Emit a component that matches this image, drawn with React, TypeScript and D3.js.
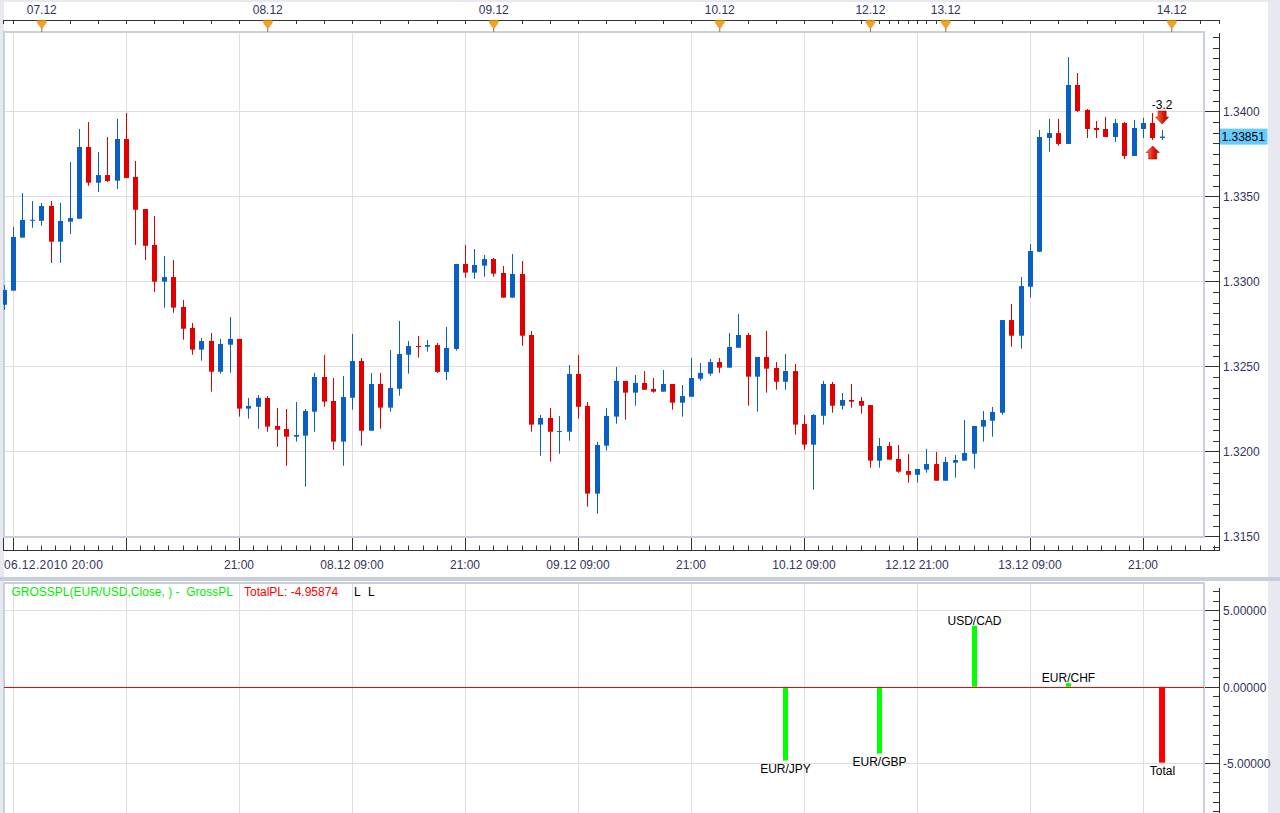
import React, { useRef, useEffect } from "react";
import * as d3 from "d3";

// hourly EUR/USD bars, two trading sessions (weekend gap)
const sessions: [string, string][] = [
  ["2010-12-06T20:00", "2010-12-10T15:00"],
  ["2010-12-12T16:00", "2010-12-13T23:00"],
];

const opens = [
  1.32862, 1.32945, 1.33257, 1.33356, 1.33356, 1.33443, 1.33233, 1.33351, 1.33368, 1.3379,
  1.3358, 1.33625, 1.33592, 1.33837, 1.33614, 1.33425, 1.33214, 1.32998, 1.33025, 1.32849,
  1.32725, 1.32598, 1.32649, 1.32468, 1.32627, 1.32661, 1.32251, 1.32262, 1.32314, 1.32149,
  1.32131, 1.32086, 1.32092, 1.32233, 1.32437, 1.32296, 1.32057, 1.32315, 1.32531, 1.32121,
  1.32396, 1.32257, 1.32368, 1.32568, 1.32619, 1.32615, 1.32625, 1.32467, 1.32602, 1.33102,
  1.33051, 1.33092, 1.33131, 1.33049, 1.32904, 1.33043, 1.32684, 1.32157, 1.32196, 1.32115,
  1.32115, 1.32455, 1.32267, 1.31751, 1.32033, 1.32204, 1.32414, 1.32345, 1.32402, 1.32367,
  1.32351, 1.32396, 1.32286, 1.32321, 1.32427, 1.32457, 1.32525, 1.32492, 1.32609, 1.32684,
  1.32439, 1.32555, 1.3249, 1.32409, 1.32472, 1.32161, 1.32039, 1.32209, 1.32396, 1.32268,
  1.32302, 1.32296, 1.32272, 1.31945, 1.32031, 1.31955, 1.31884, 1.31862, 1.31892, 1.31925,
  1.31827, 1.31933, 1.31945, 1.31986, 1.32145, 1.3218, 1.32227, 1.32772, 1.3268, 1.32968,
  1.33174, 1.33843, 1.33872, 1.33808, 1.34155, 1.34008, 1.33902, 1.33896, 1.33849, 1.33931,
  1.33737, 1.33896, 1.33931, 1.33843,
];
const highs = [
  1.32978, 1.33319, 1.33519, 1.33472, 1.33461, 1.33472, 1.33461, 1.33702, 1.33896, 1.33937,
  1.33761, 1.33849, 1.33955, 1.3399, 1.33708, 1.33425, 1.33384, 1.33149, 1.33125, 1.3289,
  1.32755, 1.32667, 1.32696, 1.32661, 1.3279, 1.32661, 1.32314, 1.32331, 1.32325, 1.32255,
  1.32249, 1.3229, 1.32249, 1.32461, 1.32567, 1.32431, 1.32443, 1.3269, 1.32549, 1.32461,
  1.32461, 1.32596, 1.32767, 1.32649, 1.32678, 1.32655, 1.32637, 1.32731, 1.33102, 1.33214,
  1.3319, 1.33155, 1.33137, 1.3309, 1.33161, 1.33119, 1.32708, 1.32214, 1.32255, 1.32208,
  1.32508, 1.32567, 1.3229, 1.32055, 1.32255, 1.32496, 1.32414, 1.32449, 1.32472, 1.32431,
  1.32478, 1.32396, 1.3239, 1.32549, 1.32519, 1.32543, 1.32549, 1.32696, 1.32808, 1.32696,
  1.32555, 1.32708, 1.32525, 1.32572, 1.32514, 1.32214, 1.32219, 1.32414, 1.32408, 1.32343,
  1.32396, 1.32319, 1.32272, 1.32078, 1.32055, 1.32037, 1.31984, 1.31896, 1.32014, 1.31996,
  1.31967, 1.31978, 1.32184, 1.32149, 1.32237, 1.32261, 1.32772, 1.32867, 1.33025, 1.33219,
  1.3389, 1.33955, 1.33955, 1.34319, 1.34225, 1.34014, 1.33943, 1.33967, 1.33955, 1.33937,
  1.33949, 1.33961, 1.3399, 1.3389,
];
const lows = [
  1.32831, 1.32945, 1.33257, 1.33315, 1.33327, 1.33108, 1.33108, 1.33278, 1.33368, 1.33562,
  1.33525, 1.33584, 1.33543, 1.33608, 1.33214, 1.33125, 1.32937, 1.32845, 1.32815, 1.32657,
  1.32568, 1.32533, 1.32351, 1.32457, 1.32462, 1.32204, 1.32192, 1.32133, 1.32115, 1.32027,
  1.31915, 1.32057, 1.31792, 1.32115, 1.32262, 1.32009, 1.31915, 1.32245, 1.32033, 1.32121,
  1.32133, 1.32233, 1.32327, 1.32457, 1.32551, 1.32586, 1.32461, 1.32419, 1.32592, 1.33021,
  1.33015, 1.33027, 1.33027, 1.32904, 1.32904, 1.32621, 1.32115, 1.31974, 1.31939, 1.31986,
  1.32062, 1.32192, 1.31674, 1.31633, 1.32004, 1.32162, 1.32186, 1.32268, 1.32362, 1.32345,
  1.32351, 1.32245, 1.32204, 1.32321, 1.32415, 1.32445, 1.32462, 1.32492, 1.32609, 1.32268,
  1.32233, 1.32345, 1.32362, 1.32362, 1.32098, 1.32009, 1.31774, 1.32157, 1.32227, 1.32245,
  1.32257, 1.32221, 1.31904, 1.31904, 1.31951, 1.31874, 1.31815, 1.31815, 1.31874, 1.31827,
  1.31827, 1.31845, 1.31945, 1.31898, 1.32057, 1.32086, 1.32215, 1.32615, 1.32604, 1.32904,
  1.33174, 1.33762, 1.33798, 1.33808, 1.33996, 1.33843, 1.33843, 1.33849, 1.33819, 1.33719,
  1.33737, 1.33843, 1.33831, 1.33831,
];
const closes = [
  1.32949, 1.33261, 1.33361, 1.33362, 1.33443, 1.33233, 1.33355, 1.33372, 1.3379, 1.3358,
  1.33625, 1.3359, 1.33837, 1.33608, 1.33421, 1.33209, 1.32998, 1.33025, 1.32845, 1.32721,
  1.32598, 1.32649, 1.32468, 1.32631, 1.32661, 1.32251, 1.32267, 1.32314, 1.32145, 1.32127,
  1.32086, 1.32096, 1.32237, 1.32437, 1.32292, 1.32057, 1.32319, 1.32531, 1.32121, 1.32396,
  1.32257, 1.32372, 1.32572, 1.32619, 1.32614, 1.32625, 1.32467, 1.32608, 1.33102, 1.33051,
  1.33096, 1.33131, 1.33045, 1.32904, 1.33043, 1.3268, 1.32157, 1.32196, 1.32115, 1.32119,
  1.32455, 1.32262, 1.31751, 1.32037, 1.32208, 1.32414, 1.32345, 1.32402, 1.32362, 1.32351,
  1.32396, 1.32286, 1.32325, 1.32431, 1.32461, 1.32525, 1.32492, 1.32614, 1.32684, 1.32439,
  1.32555, 1.32486, 1.32409, 1.32472, 1.32157, 1.32039, 1.32214, 1.32396, 1.32268, 1.32302,
  1.32292, 1.32268, 1.31945, 1.32031, 1.31951, 1.3188, 1.31862, 1.31896, 1.31925, 1.31827,
  1.31937, 1.31949, 1.3199, 1.32149, 1.32184, 1.32231, 1.32772, 1.3268, 1.32972, 1.33178,
  1.33849, 1.33872, 1.33808, 1.34155, 1.34002, 1.33896, 1.3389, 1.33849, 1.33931, 1.33737,
  1.33902, 1.33931, 1.33843, 1.33851,
];

const dayMarkers = ["07.12", "08.12", "09.12", "10.12", "12.12", "13.12", "14.12"];
const gridTimes = [
  "06.12 21:00", "07.12 09:00", "07.12 21:00", "08.12 09:00", "08.12 21:00", "09.12 09:00",
  "09.12 21:00", "10.12 09:00", "12.12 21:00", "13.12 09:00", "13.12 21:00",
];
const bottomLabels: [string, string][] = [
  ["06.12 20:00", "06.12.2010 20:00"],
  ["07.12 21:00", "21:00"],
  ["08.12 09:00", "08.12 09:00"],
  ["08.12 21:00", "21:00"],
  ["09.12 09:00", "09.12 09:00"],
  ["09.12 21:00", "21:00"],
  ["10.12 09:00", "10.12 09:00"],
  ["12.12 21:00", "12.12 21:00"],
  ["13.12 09:00", "13.12 09:00"],
  ["13.12 21:00", "21:00"],
];
const priceTicks = [1.315, 1.32, 1.325, 1.33, 1.335, 1.34];
const lastPrice = 1.33851;

// trades on the chart
const tradeTimes = ["13.12 22:00", "13.12 23:00"];
const tradeSides = ["buy", "sell"];
const tradeLabels = ["", "-3.2"];

// GROSSPL indicator panel
const plSymbols = ["EUR/JPY", "EUR/GBP", "USD/CAD", "EUR/CHF", "Total"];
const plTimes = ["10.12 07:00", "12.12 17:00", "13.12 03:00", "13.12 13:00", "13.12 23:00"];
const plValues = [-4.82, -4.36, 3.98, 0.24, -4.95874];
const plTicks = [-5, 0, 5];

const FONT = "'Liberation Sans', Arial, sans-serif";
const AXIS_TEXT = "#33335f";
const UP = "#0a5fc3";
const DOWN = "#e00000";
const GRID = "#dedede";
const FRAME = "#c8d0dc";

export default function App() {
  const ref = useRef<SVGSVGElement>(null);

  useEffect(() => {
    if (!ref.current) return;
    const svg = d3.select(ref.current);
    svg.selectAll("*").remove();

    const fmt = d3.timeFormat("%d.%m %H:%M");
    const times = sessions.flatMap(([a, b]) =>
      d3.timeHour.range(new Date(a), d3.timeHour.offset(new Date(b), 1))
    );
    const labels = times.map(fmt);
    const idxOf = (t: string) => labels.indexOf(t);

    const bars = labels.map((t, i) => ({
      i,
      t,
      o: opens[i],
      h: highs[i],
      l: lows[i],
      c: closes[i],
    }));

    const x = d3
      .scaleLinear()
      .domain([idxOf("06.12 21:00"), idxOf("13.12 21:00")])
      .range([13, 1143]);
    const y = d3.scaleLinear().domain([1.315, 1.34]).range([536.3, 111.3]);
    const yPL = d3.scaleLinear().domain([-5, 5]).range([763.3, 610.3]);
    const px = (v: number) => Math.round(v) + 0.5;

    const L = 4, R = 1204, AX = 1219.5;

    // backgrounds
    svg.append("rect").attr("width", 1280).attr("height", 813).attr("fill", "#e8e8f0");
    svg.append("rect").attr("x", L).attr("y", 2).attr("width", 1264).attr("height", 811).attr("fill", "#fff");

    const defs = svg.append("defs");
    defs.append("clipPath").attr("id", "plot").append("rect")
      .attr("x", 3).attr("y", 32).attr("width", R - 3).attr("height", 505);
    const grad = defs.append("linearGradient").attr("id", "arrow").attr("x1", 0).attr("x2", 1);
    grad.append("stop").attr("offset", "0%").attr("stop-color", "#ff8a50");
    grad.append("stop").attr("offset", "55%").attr("stop-color", "#e01a10");
    grad.append("stop").attr("offset", "100%").attr("stop-color", "#b80000");

    // ---------- main price panel ----------
    const grid = svg.append("g").attr("stroke", GRID).attr("stroke-width", 1);
    gridTimes.forEach((t) => {
      grid.append("line").attr("x1", px(x(idxOf(t)))).attr("x2", px(x(idxOf(t))))
        .attr("y1", 33).attr("y2", 537);
      grid.append("line").attr("x1", px(x(idxOf(t)))).attr("x2", px(x(idxOf(t))))
        .attr("y1", 584).attr("y2", 813);
    });
    priceTicks.filter((p) => p > 1.315).forEach((p) => {
      grid.append("line").attr("x1", L).attr("x2", R).attr("y1", px(y(p))).attr("y2", px(y(p)));
    });
    plTicks.filter((v) => v !== 0).forEach((v) => {
      grid.append("line").attr("x1", L).attr("x2", R).attr("y1", px(yPL(v))).attr("y2", px(yPL(v)));
    });

    svg.append("rect").attr("x", L).attr("y", 32).attr("width", R - L).attr("height", 505)
      .attr("fill", "none").attr("stroke", FRAME).attr("stroke-width", 2);

    const candles = svg.append("g").attr("clip-path", "url(#plot)");
    const cg = candles.selectAll("g").data(bars).enter().append("g")
      .attr("fill", (d) => (d.c >= d.o ? UP : DOWN))
      .attr("stroke", (d) => (d.c >= d.o ? UP : DOWN));
    cg.append("line")
      .attr("x1", (d) => px(x(d.i))).attr("x2", (d) => px(x(d.i)))
      .attr("y1", (d) => y(d.h)).attr("y2", (d) => y(d.l))
      .attr("stroke-width", 1);
    cg.append("rect")
      .attr("x", (d) => Math.round(x(d.i)) - 2)
      .attr("width", 5)
      .attr("y", (d) => y(Math.max(d.o, d.c)))
      .attr("height", (d) => Math.max(1, Math.abs(y(d.o) - y(d.c))))
      .attr("stroke", "none");

    // trade arrows
    tradeTimes.forEach((t, k) => {
      const b = bars[idxOf(t)];
      const cx = x(b.i) + 0.3;
      if (tradeSides[k] === "sell") {
        const ty = y(b.h) - 6;
        svg.append("path")
          .attr("d", `M${cx - 4},${ty - 13} h8 v6 h2.5 L${cx},${ty} L${cx - 6.5},${ty - 7} h2.5 Z`)
          .attr("fill", "url(#arrow)").attr("stroke", "#a00000").attr("stroke-width", 0.6);
        svg.append("text").attr("x", cx).attr("y", ty - 19)
          .attr("text-anchor", "middle").attr("dominant-baseline", "central")
          .attr("font-family", FONT).attr("font-size", 12).attr("fill", "#000")
          .text(tradeLabels[k]);
      } else {
        const ty = y(b.l) + 6;
        svg.append("path")
          .attr("d", `M${cx},${ty} L${cx + 6.5},${ty + 6.5} h-2.5 v6.5 h-8 v-6.5 h-2.5 Z`)
          .attr("fill", "url(#arrow)").attr("stroke", "#a00000").attr("stroke-width", 0.6);
      }
    });

    // top date axis
    const top = svg.append("g").attr("stroke", "#333").attr("stroke-width", 1);
    top.append("line").attr("x1", 3).attr("x2", AX).attr("y1", 20.5).attr("y2", 20.5);
    [3.5, AX].forEach((v) => top.append("line").attr("x1", v).attr("x2", v).attr("y1", 20).attr("y2", 24));
    const topTicks = d3.range(1, 130, 3).concat(d3.range(idxOf("12.12 16:00"), idxOf("13.12 00:00")));
    topTicks.forEach((i) => {
      top.append("line").attr("x1", px(x(i))).attr("x2", px(x(i))).attr("y1", 20).attr("y2", 24);
    });
    dayMarkers.forEach((d) => {
      let i = labels.findIndex((t) => t.startsWith(d));
      if (i < 0) i = labels.length;
      const mx = x(i) + 0.5;
      svg.append("line").attr("x1", mx).attr("x2", mx).attr("y1", 26).attr("y2", 32)
        .attr("stroke", "#777").attr("stroke-width", 1);
      svg.append("path")
        .attr("d", `M${mx - 4.5},20.5 h9 v2 L${mx},29 L${mx - 4.5},22.5 Z`)
        .attr("fill", "#f6a21e").attr("stroke", "#e08a10").attr("stroke-width", 0.5);
      svg.append("text").attr("x", mx).attr("y", 10)
        .attr("text-anchor", "middle").attr("dominant-baseline", "central")
        .attr("font-family", FONT).attr("font-size", 12).attr("fill", AXIS_TEXT).text(d);
    });

    // right price axis
    const ra = svg.append("g").attr("stroke", "#333").attr("stroke-width", 1);
    ra.append("line").attr("x1", AX).attr("x2", AX).attr("y1", 33).attr("y2", 551);
    d3.range(-1, 50).map((k) => 1.315 + k * 0.000625)
      .filter((p) => y(p) > 34 && y(p) < 549)
      .forEach((p) => {
        ra.append("line").attr("x1", 1213).attr("x2", AX).attr("y1", px(y(p))).attr("y2", px(y(p)));
      });
    priceTicks.forEach((p) => {
      ra.append("line").attr("x1", 1205).attr("x2", AX).attr("y1", px(y(p))).attr("y2", px(y(p)));
      svg.append("text").attr("x", 1223).attr("y", y(p) + 1).attr("dominant-baseline", "central")
        .attr("font-family", FONT).attr("font-size", 12).attr("fill", AXIS_TEXT).text(p.toFixed(4));
    });
    svg.append("rect").attr("x", 1220).attr("y", y(lastPrice) - 8).attr("width", 47.5).attr("height", 16)
      .attr("fill", "#66ccff");
    svg.append("text").attr("x", 1221.5).attr("y", y(lastPrice) + 0.5).attr("dominant-baseline", "central")
      .attr("font-family", FONT).attr("font-size", 12).attr("fill", "#000").text(lastPrice.toFixed(5));

    // bottom time axis
    const ba = svg.append("g").attr("stroke", "#333").attr("stroke-width", 1);
    ba.append("line").attr("x1", 3).attr("x2", AX).attr("y1", 550.5).attr("y2", 550.5);
    ba.append("line").attr("x1", 3.5).attr("x2", 3.5).attr("y1", 538).attr("y2", 551);
    d3.range(-0.5, 131, 1.5).map((i) => x(i)).filter((v) => v > 4 && v < AX - 2).forEach((v) => {
      ba.append("line").attr("x1", px(v)).attr("x2", px(v)).attr("y1", 545.5).attr("y2", 551);
    });
    gridTimes.forEach((t) => {
      const v = px(x(idxOf(t)));
      ba.append("line").attr("x1", v).attr("x2", v).attr("y1", 538).attr("y2", 551);
    });
    bottomLabels.forEach(([t, txt], k) => {
      svg.append("text")
        .attr("x", k === 0 ? 4 : x(idxOf(t)))
        .attr("y", 565)
        .attr("text-anchor", k === 0 ? "start" : "middle")
        .attr("dominant-baseline", "central")
        .attr("font-family", FONT).attr("font-size", 12).attr("fill", AXIS_TEXT)
        .attr("textLength", k === 0 ? 99 : null)
        .text(txt);
    });

    // panel separator
    svg.append("rect").attr("x", 0).attr("y", 577).attr("width", 1280).attr("height", 4).attr("fill", "#c6cfdb");

    // ---------- GROSSPL panel ----------
    svg.append("rect").attr("x", L).attr("y", 583).attr("width", R - L).attr("height", 240)
      .attr("fill", "none").attr("stroke", FRAME).attr("stroke-width", 2);

    plSymbols.forEach((s, k) => {
      const v = plValues[k];
      const cx = Math.round(x(idxOf(plTimes[k])));
      const isTotal = s === "Total";
      const w = isTotal ? 6 : 5;
      const y0 = yPL(0), y1 = yPL(v);
      svg.append("rect")
        .attr("x", cx - Math.floor(w / 2)).attr("width", w)
        .attr("y", Math.min(y0, y1)).attr("height", Math.abs(y1 - y0))
        .attr("fill", isTotal ? "#ff0000" : "#00ff00");
      svg.append("text")
        .attr("x", cx + 0.5)
        .attr("y", v < 0 ? y1 + 8.5 : y1 - 5)
        .attr("text-anchor", "middle").attr("dominant-baseline", "central")
        .attr("font-family", FONT).attr("font-size", 12).attr("fill", "#000")
        .text(s);
    });

    // zero line of the indicator
    svg.append("rect").attr("x", L).attr("y", Math.round(yPL(0)))
      .attr("width", R - L).attr("height", 1).attr("fill", "#ff0000");

    const pa = svg.append("g").attr("stroke", "#333").attr("stroke-width", 1);
    pa.append("line").attr("x1", AX).attr("x2", AX).attr("y1", 588).attr("y2", 813);
    d3.range(-14, 12).map((k) => k * 0.625).filter((v) => yPL(v) > 588 && yPL(v) < 813)
      .forEach((v) => {
        pa.append("line").attr("x1", 1213).attr("x2", AX).attr("y1", px(yPL(v))).attr("y2", px(yPL(v)));
      });
    plTicks.forEach((v) => {
      pa.append("line").attr("x1", 1205).attr("x2", AX).attr("y1", px(yPL(v))).attr("y2", px(yPL(v)));
      svg.append("text").attr("x", 1223).attr("y", yPL(v) + 1).attr("dominant-baseline", "central")
        .attr("font-family", FONT).attr("font-size", 12).attr("fill", AXIS_TEXT).text(v.toFixed(5));
    });

    // legend
    const leg = svg.append("g").attr("font-family", FONT).attr("font-size", 12)
      .attr("dominant-baseline", "central");
    leg.append("text").attr("x", 11.5).attr("y", 592).attr("fill", "#00ee00")
      .attr("xml:space", "preserve").style("white-space", "pre")
      .text("GROSSPL(EUR/USD,Close, ) -  GrossPL");
    leg.append("text").attr("x", 244).attr("y", 592).attr("fill", "#ff0000")
      .text(`TotalPL: ${plValues[plValues.length - 1].toFixed(5)}`);
    leg.append("text").attr("x", 354).attr("y", 592).attr("fill", "#000").text("L");
    leg.append("text").attr("x", 368).attr("y", 592).attr("fill", "#000").text("L");

    return () => {
      svg.selectAll("*").remove();
    };
  }, []);

  return (
    <div style={{ position: "absolute", left: 0, top: 0 }}>
      <svg ref={ref} width={1280} height={813} style={{ display: "block" }} />
    </div>
  );
}
